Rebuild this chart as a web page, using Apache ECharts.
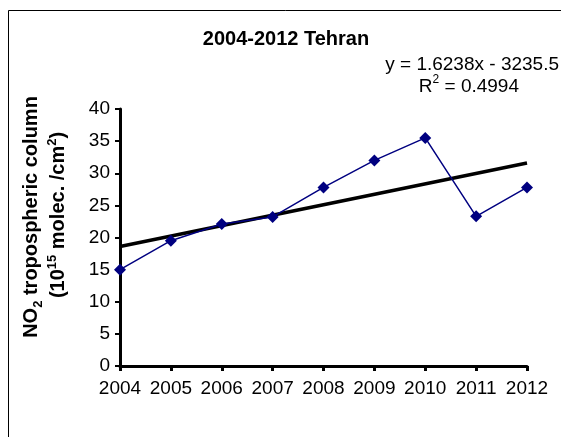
<!DOCTYPE html>
<html>
<head>
<meta charset="utf-8">
<script src="https://cdn.jsdelivr.net/npm/echarts@6/dist/echarts.min.js"></script>
<style>
  html, body { margin: 0; padding: 0; background: #fff; }
  #chart { width: 561px; height: 437px; }
</style>
</head>
<body>
<div id="chart"></div>
<script>
// data
const years = [2004, 2005, 2006, 2007, 2008, 2009, 2010, 2011, 2012]
const no2 = [15.0, 19.5, 22.1, 23.2, 27.8, 32.0, 35.5, 23.3, 27.8]
const yTicks = [0, 5, 10, 15, 20, 25, 30, 35, 40]
// linear trendline as printed on the chart
const slope = 1.6238
const intercept = -3235.5
const r2 = 0.4994

const font = 'Arial, "Liberation Sans", sans-serif'
const trend = [years[0], years[years.length - 1]].map(x => [x, +(slope * x + intercept).toFixed(3)])

const bold = (size, va) => ({ fontSize: size, fontWeight: 'bold', fontFamily: font, fill: '#000', lineHeight: 23, verticalAlign: va })

const chart = echarts.init(document.getElementById('chart'))
chart.setOption({
  animation: false,
  backgroundColor: '#fff',
  textStyle: { fontFamily: font },
  graphic: [
    // chart frame, only the left/top edges fall inside the picture
    { type: 'rect', shape: { x: 8.5, y: 10.5, width: 620, height: 500 },
      style: { fill: 'none', stroke: '#000', lineWidth: 1 }, silent: true, z: -1 },
    { type: 'text', x: 286, y: 39,
      style: { text: '2004-2012 Tehran', font: 'bold 20px ' + font, fill: '#000', align: 'center', verticalAlign: 'middle' } },
    { type: 'text', x: 559, y: 65,
      style: { text: 'y = ' + slope + 'x - ' + Math.abs(intercept), font: '19px ' + font, fill: '#000', align: 'right', verticalAlign: 'middle' } },
    { type: 'text', x: 519, y: 85,
      style: {
        text: '{a|R}{s|2}{a| = ' + r2 + '}',
        align: 'right', verticalAlign: 'middle',
        rich: {
          a: { fontSize: 19, fontFamily: font, fill: '#000', lineHeight: 22, verticalAlign: 'bottom' },
          s: { fontSize: 12, fontFamily: font, fill: '#000', lineHeight: 22, verticalAlign: 'top' }
        }
      } },
    // rotated y-axis title, two lines
    { type: 'text', x: 33, y: 217, rotation: Math.PI / 2,
      style: {
        text: '{b|NO}{s|2}{b| tropospheric column}',
        align: 'center', verticalAlign: 'middle',
        rich: { b: bold(20, 'top'), s: bold(13, 'bottom') }
      } },
    { type: 'text', x: 57, y: 215, rotation: Math.PI / 2,
      style: {
        text: '{b|(10}{p|15}{b| molec. /cm}{p|2}{b|)}',
        align: 'center', verticalAlign: 'middle',
        rich: { b: bold(20, 'bottom'), p: bold(13, 'top') }
      } }
  ],
  grid: { left: 120, right: 34, top: 109, bottom: 71, containLabel: false },
  xAxis: {
    type: 'value',
    min: years[0],
    max: years[years.length - 1],
    interval: 1,
    axisLine: { show: true, lineStyle: { color: '#000', width: 3 } },
    axisTick: { show: true, length: 5, lineStyle: { color: '#000', width: 3 } },
    axisLabel: { color: '#000', fontSize: 19, fontFamily: font, margin: 13, formatter: v => String(v) },
    splitLine: { show: false }
  },
  yAxis: {
    type: 'value',
    min: yTicks[0],
    max: yTicks[yTicks.length - 1],
    interval: 5,
    axisLine: { show: true, lineStyle: { color: '#000', width: 3 } },
    axisTick: { show: true, length: 5, lineStyle: { color: '#000', width: 2 } },
    axisLabel: { color: '#000', fontSize: 19, fontFamily: font, margin: 10 },
    splitLine: { show: false }
  },
  series: [
    {
      name: 'trend',
      type: 'line',
      data: trend,
      symbol: 'none',
      lineStyle: { color: '#000', width: 3.5 },
      z: 2
    },
    {
      name: 'NO2',
      type: 'line',
      data: years.map((y, i) => [y, no2[i]]),
      symbol: 'diamond',
      symbolSize: 12,
      itemStyle: { color: '#000080' },
      lineStyle: { color: '#000080', width: 1.5 },
      z: 3
    }
  ]
})
</script>
</body>
</html>
